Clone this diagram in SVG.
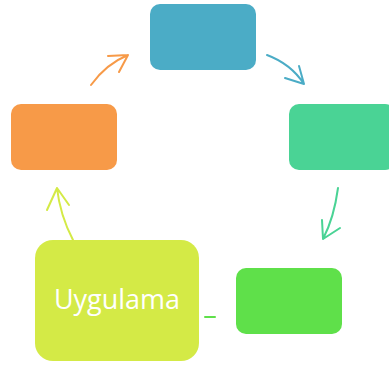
<svg xmlns="http://www.w3.org/2000/svg" width="389" height="367" viewBox="0 0 389 367">
<style>
.arr{fill:none;stroke-width:2;stroke-linecap:round;stroke-linejoin:round}
.lbl{font-family:"Open Sans","Liberation Sans",sans-serif;font-size:27px;fill:#ffffff}
</style>
<rect width="389" height="367" fill="#ffffff"/>
<g id="node-top"><rect x="150" y="4" width="106" height="66" rx="10" fill="#4BACC6"/></g>
<g id="node-right"><rect x="289" y="104" width="106" height="66" rx="10" fill="#4AD395"/></g>
<g id="node-bottom-right"><rect x="236" y="268" width="106" height="66" rx="10" fill="#5FE04A"/></g>
<g id="node-uygulama"><rect x="35" y="240" width="164" height="121" rx="18" fill="#D4EA46"/>
<text class="lbl" x="117" y="309" text-anchor="middle">Uygulama</text></g>
<g id="node-left"><rect x="11" y="104" width="106" height="66" rx="10" fill="#F79A48"/></g>
<g id="connectors">
<path class="arr" stroke="#F79A48" d="M91 85 Q106 64 128 55 M108 56 L128 55 L119 72"/>
<path class="arr" stroke="#4BACC6" d="M267 55 Q291 64 304 84 M285 78 L304 84 L299 66"/>
<path class="arr" stroke="#4AD395" d="M338 188 Q334 218 323 239 M322 220 L323 239 L340 228"/>
<path class="arr" stroke="#5FE04A" d="M205 317 L215 317"/>
<path class="arr" stroke="#D4EA46" d="M73 240 Q60 215 57 188 M47 210 L57 188 L69 205"/>
</g>
</svg>
